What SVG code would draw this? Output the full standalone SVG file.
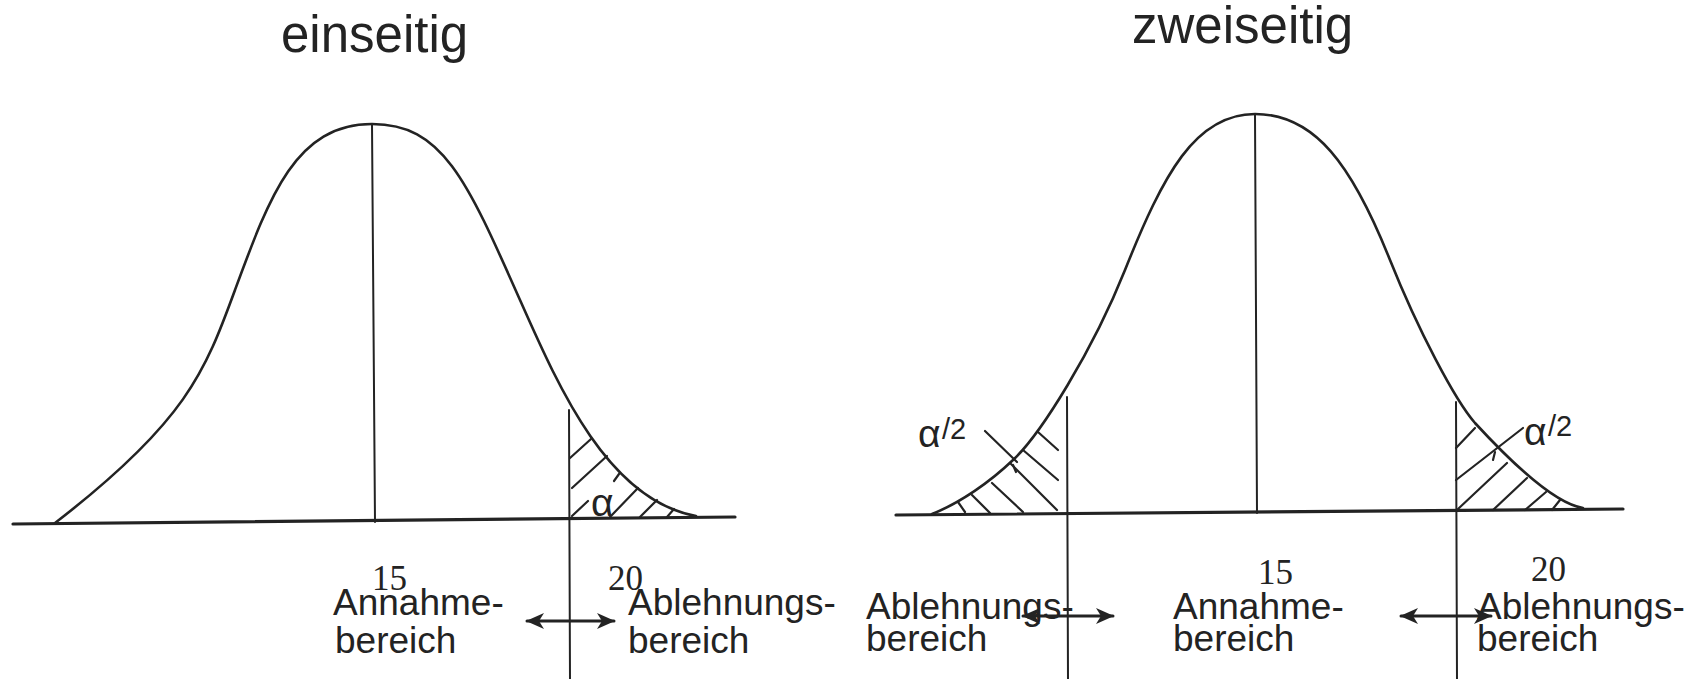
<svg xmlns="http://www.w3.org/2000/svg" width="1697" height="679" viewBox="0 0 1697 679">
<style>
.ln{fill:none;stroke:#232323;stroke-linecap:round;stroke-linejoin:round}
.curve{stroke-width:2.6}
.base{stroke-width:3.2}
.vl{stroke-width:2}
.ht{stroke-width:2.2}
.t{font-family:"Liberation Sans",Arial,sans-serif;fill:#232323}
.title{font-size:51px}
.lbl{font-size:37px}
.num{font-family:"Liberation Serif","Times New Roman",serif;font-size:35px;fill:#232323}
.al{font-size:39px}
.sup{font-size:29px}
</style>
<defs>
<marker id="ah" viewBox="0 0 18 16" refX="17" refY="8" markerWidth="18" markerHeight="16" orient="auto-start-reverse" markerUnits="userSpaceOnUse">
<path d="M0,0 L18,8 L0,16 L5,8 z" fill="#232323"/>
</marker>
</defs>
<rect width="1697" height="679" fill="#ffffff"/>

<g id="title-einseitig"><text class="t title" x="281" y="52">einseitig</text></g>
<g id="title-zweiseitig"><text class="t title" x="1132" y="43">zweiseitig</text></g>

<g id="plot-einseitig">
<line class="ln base" x1="13" y1="524" x2="735" y2="517"/>
<path class="ln curve" d="M55,523 C186,422 205,372 235,290 C270,195 296,124 372,124 C442,124 466,178 520,300 C559,388 608,500 696,516"/>
<line class="ln vl" x1="372" y1="124" x2="375" y2="522"/>
<line class="ln vl" x1="569" y1="410" x2="570" y2="679"/>
<g id="hatch-einseitig">
<line class="ln ht" x1="570" y1="458" x2="591" y2="439"/>
<line class="ln ht" x1="572" y1="488" x2="607" y2="456"/>
<line class="ln ht" x1="572" y1="516" x2="588" y2="501"/>
<line class="ln ht" x1="614" y1="481" x2="619" y2="474"/>
<line class="ln ht" x1="610" y1="517" x2="638" y2="488"/>
<line class="ln ht" x1="640" y1="517" x2="657" y2="500"/>
<line class="ln ht" x1="667" y1="517" x2="674" y2="509"/>
</g>
<text class="t al" x="591" y="516">α</text>
</g>

<g id="labels-einseitig">
<text class="num" x="372" y="590">15</text>
<text class="num" x="608" y="590">20</text>
<text class="t lbl" x="333" y="615">Annahme-</text>
<text class="t lbl" x="335" y="653">bereich</text>
<text class="t lbl" x="628" y="615">Ablehnungs-</text>
<text class="t lbl" x="628" y="653">bereich</text>
</g>

<g id="plot-zweiseitig">
<line class="ln base" x1="896" y1="515" x2="1623" y2="509"/>
<path class="ln curve" d="M932,514 C960,503 990,482 1013,460 C1041,434 1093,350 1125,270 C1163,175 1195,114 1255,114 C1315,114 1352,165 1390,260 C1418,330 1455,400 1475,423 C1498,448 1550,503 1583,508"/>
<line class="ln vl" x1="1255" y1="115" x2="1257" y2="513"/>
<line class="ln vl" x1="1067" y1="397" x2="1068" y2="679"/>
<line class="ln vl" x1="1456" y1="402" x2="1457" y2="679"/>
<g id="hatch-links">
<line class="ln ht" x1="1038" y1="432" x2="1058" y2="450"/>
<line class="ln ht" x1="1023" y1="450" x2="1058" y2="480"/>
<line class="ln ht" x1="1010" y1="463" x2="1057" y2="510"/>
<line class="ln ht" x1="992" y1="483" x2="1023" y2="512"/>
<line class="ln ht" x1="972" y1="495" x2="990" y2="513"/>
<line class="ln ht" x1="958" y1="502" x2="965" y2="512"/>
<line class="ln ht" x1="1013" y1="465" x2="1016" y2="472"/>
</g>
<g id="hatch-rechts">
<line class="ln ht" x1="1456" y1="448" x2="1475" y2="428"/>
<line class="ln ht" x1="1458" y1="509" x2="1507" y2="463"/>
<line class="ln ht" x1="1493" y1="510" x2="1527" y2="478"/>
<line class="ln ht" x1="1525" y1="510" x2="1546" y2="492"/>
<line class="ln ht" x1="1552" y1="510" x2="1560" y2="500"/>
<line class="ln ht" x1="1495" y1="452" x2="1493" y2="460"/>
</g>
<text class="t al" x="918" y="447">α</text>
<text class="t sup" x="942" y="439">/2</text>
<text class="t al" x="1524" y="445">α</text>
<text class="t sup" x="1548" y="436">/2</text>
</g>

<g id="labels-zweiseitig">
<text class="num" x="1258" y="584">15</text>
<text class="num" x="1531" y="581">20</text>
<text class="t lbl" x="866" y="619">Ablehnungs-</text>
<text class="t lbl" x="866" y="651">bereich</text>
<text class="t lbl" x="1173" y="619">Annahme-</text>
<text class="t lbl" x="1173" y="651">bereich</text>
<text class="t lbl" x="1477" y="619">Ablehnungs-</text>
<text class="t lbl" x="1477" y="651">bereich</text>
</g>

<g id="connectors">
<line class="ln ht" x1="985" y1="431" x2="1017" y2="462"/>
<line class="ln ht" x1="1456" y1="480" x2="1523" y2="428"/>
<line class="ln" stroke-width="3" x1="527" y1="621" x2="614" y2="621" marker-start="url(#ah)" marker-end="url(#ah)"/>
<line class="ln" stroke-width="3" x1="1023" y1="616" x2="1113" y2="616" marker-start="url(#ah)" marker-end="url(#ah)"/>
<line class="ln" stroke-width="3" x1="1401" y1="616" x2="1491" y2="616" marker-start="url(#ah)" marker-end="url(#ah)"/>
</g>
</svg>
